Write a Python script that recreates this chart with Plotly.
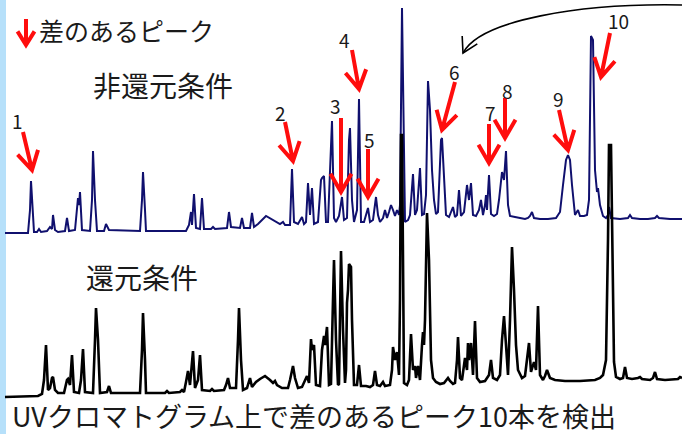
import math
import plotly.graph_objects as go

# ---------------- data ----------------
# Retention time in arbitrary units, absorbance in arbitrary units
nonred_rt = [5, 28, 30, 31, 33, 34, 37, 39, 41, 47, 50, 52, 53, 55, 58, 65, 67, 69, 75, 78, 79, 80, 82, 90, 92, 93, 95, 97,
             104, 106, 109, 140, 142, 143, 145, 146, 186, 189, 191, 192, 194, 196, 200, 202, 204, 211, 213, 215, 227, 229,
             231, 240, 242, 244, 250, 252, 254, 258, 266, 274, 280, 283, 285, 290, 292, 294, 298, 302, 304, 306, 308, 310,
             312, 314, 318, 321, 322, 324, 326, 328, 330, 332, 334, 336, 339, 342, 344, 347, 349, 350, 352, 354, 357, 359,
             361, 364, 366, 368, 370, 373, 376, 378, 380, 383, 385, 387, 389, 391, 393, 395, 397, 399, 400, 401, 402, 404,
             405, 408, 410, 413, 415, 417, 420, 422, 424, 426, 428, 430, 432, 434, 436, 438, 440, 441, 442, 444, 446, 449,
             451, 453, 455, 457, 459, 461, 464, 467, 469, 471, 473, 476, 479, 481, 483, 485, 486, 487, 489, 491, 494, 497,
             499, 502, 504, 506, 508, 510, 515, 520, 525, 528, 530, 532, 534, 540, 548, 556, 560, 563, 566, 568, 570, 572,
             575, 578, 580, 584, 587, 589, 590, 591, 593, 594, 595, 597, 598, 600, 603, 606, 608, 609, 611, 620, 628, 630,
             632, 640, 648, 655, 657, 659, 670, 682]
nonred_abs = [0, 0, 23, 52, 18, 1, 1, 4, 1, 2, 6, 4, 18, 3, 1, 2, 15, 2, 3, 35, 28, 41, 3, 2, 33, 82, 33, 2,
              2, 9, 3, 2, 33, 61, 23, 2, 2, 8, 21, 8, 39, 5, 4, 35, 4, 4, 6, 4, 5, 21,
              6, 5, 15, 5, 5, 20, 6, 9, 17, 12, 9, 11, 8, 8, 64, 11, 9, 16, 9, 11, 50, 18,
              45, 9, 11, 53, 55, 57, 11, 11, 73, 112, 15, 11, 17, 36, 13, 15, 93, 105, 33, 11, 23, 134,
              11, 11, 18, 25, 11, 13, 36, 18, 11, 15, 23, 15, 21, 28, 23, 17, 23, 18, 28, 133, 225, 83,
              11, 13, 18, 59, 18, 23, 65, 18, 19, 38, 152, 123, 63, 33, 19, 21, 63, 93, 95, 53, 18, 16,
              21, 26, 16, 18, 43, 17, 21, 48, 33, 50, 18, 17, 23, 33, 18, 28, 38, 23, 58, 19, 17, 19,
              33, 61, 53, 82, 28, 17, 16, 15, 14, 15, 17, 21, 15, 14, 14, 15, 21, 48, 73, 78, 73, 48,
              18, 23, 17, 17, 18, 33, 113, 197, 193, 113, 63, 41, 45, 28, 17, 15, 18, 26, 15, 14, 15, 18,
              15, 14, 14, 15, 17, 15, 14, 14]

red_rt = [5, 38, 42, 44, 46, 48, 50, 52, 53, 55, 58, 64, 67, 68, 70, 72, 74, 79, 81, 83, 85, 93, 95, 96, 98, 100,
          107, 109, 111, 140, 142, 143, 145, 146, 165, 167, 169, 180, 182, 184, 186, 188, 190, 193, 195, 198, 200, 202,
          210, 212, 214, 224, 226, 228, 230, 236, 238, 239, 241, 243, 247, 250, 252, 256, 260, 265, 270, 273, 275, 277,
          282, 288, 290, 293, 295, 298, 302, 305, 307, 309, 311, 312, 314, 316, 320, 322, 324, 325, 327, 329, 331, 333,
          334, 336, 338, 339, 341, 343, 345, 346, 347, 348, 349, 351, 352, 354, 357, 359, 361, 366, 370, 373, 375, 377,
          380, 383, 385, 390, 392, 393, 395, 397, 399, 400, 401, 402, 403, 404, 407, 409, 411, 413, 415, 416, 418, 420,
          422, 423, 424, 425, 427, 429, 431, 433, 436, 440, 444, 446, 448, 450, 453, 455, 457, 458, 460, 462, 464, 465,
          467, 468, 469, 471, 473, 475, 477, 480, 485, 489, 491, 493, 497, 500, 502, 504, 506, 508, 510, 512, 514, 516,
          518, 522, 525, 527, 529, 531, 533, 534, 536, 538, 540, 543, 545, 547, 550, 555, 565, 580, 595, 600, 603, 606,
          608, 609, 611, 612, 614, 616, 620, 623, 625, 627, 632, 638, 640, 642, 650, 653, 655, 657, 665, 678, 680, 682]
red_abs = [-1, 0, 2, 16, 51, 6, 8, 18, 19, 6, 3, 3, 16, 17, 11, 41, 4, 3, 16, 47, 4, 3, 56, 88, 56, 3,
           4, 10, 3, 3, 46, 83, 36, 3, 3, 5, 3, 4, 6, 4, 14, 25, 11, 45, 8, 16, 41, 6,
           5, 7, 5, 6, 11, 18, 8, 8, 56, 88, 36, 6, 8, 18, 9, 14, 17, 20, 16, 13, 15, 11,
           8, 8, 16, 30, 18, 8, 9, 16, 20, 13, 57, 46, 51, 11, 10, 46, 60, 51, 69, 11, 12, 96,
           136, 56, 11, 12, 145, 66, 13, 26, 93, 106, 132, 129, 76, 11, 11, 31, 10, 10, 9, 11, 25, 11,
           10, 14, 10, 11, 26, 49, 36, 44, 21, 96, 261, 261, 96, 13, 11, 16, 62, 26, 30, 18, 30, 16,
           51, 64, 51, 76, 183, 136, 36, 18, 14, 12, 13, 15, 18, 15, 12, 13, 36, 59, 18, 16, 31, 38,
           26, 53, 36, 53, 21, 75, 18, 14, 15, 21, 36, 18, 16, 21, 56, 80, 51, 21, 76, 149, 106, 51,
           26, 18, 20, 36, 53, 24, 31, 34, 26, 90, 21, 16, 20, 26, 18, 16, 15, 15, 16, 18, 21, 36,
           156, 251, 251, 156, 34, 19, 17, 18, 29, 18, 17, 18, 19, 17, 16, 18, 24, 17, 16, 17, 19, 18]

peak_labels = ["1", "2", "3", "4", "5", "6", "7", "8", "9", "10"]

W, H = 682, 434


def px(x, y):
    return x / W, 1 - y / H


fig = go.Figure()
fig.add_trace(go.Scatter(x=nonred_rt, y=nonred_abs, mode="lines", yaxis="y",
                         line=dict(color="#10106e", width=2), hoverinfo="skip", showlegend=False))
fig.add_trace(go.Scatter(x=red_rt, y=red_abs, mode="lines", yaxis="y2",
                         line=dict(color="#000000", width=2.6), hoverinfo="skip", showlegend=False))

shapes = []
# light-blue strip on the left edge
shapes.append(dict(type="rect", xref="paper", yref="paper", x0=0, x1=6 / W, y0=0, y1=1,
                   fillcolor="#b6e0fa", line=dict(width=0), layer="below"))


def head_pts(tail, tip, head, ang):
    dx, dy = tip[0] - tail[0], tip[1] - tail[1]
    L = math.hypot(dx, dy)
    bx, by = -dx / L, -dy / L
    pts = []
    for s in (1, -1):
        a = math.radians(ang * s)
        rx = bx * math.cos(a) - by * math.sin(a)
        ry = bx * math.sin(a) + by * math.cos(a)
        pts.append((tip[0] + rx * head, tip[1] + ry * head))
    return pts


def p(x, y):
    X, Y = px(x, y)
    return f"{X:.5f},{Y:.5f}"


def arrow_path(tail, tip, head=21, ang=30, shaft=True):
    a, b = head_pts(tail, tip, head, ang)
    s = f"M{p(*tail)} L{p(*tip)} " if shaft else ""
    return s + f"M{p(*a)} L{p(*tip)} L{p(*b)}"


# red arrows marking the differing peaks (tail, tip)
arrow_tails = [(23, 132), (285, 122), (341, 118), (352, 50), (368, 149),
               (455, 82), (489, 124), (505, 98), (559, 110), (610, 33)]
arrow_tips = [(32, 170), (293, 161), (341, 192), (359, 89), (368, 197),
              (442, 130), (489, 163), (505, 138), (568, 150), (601, 77)]
label_pos = [(17, 120), (280, 112), (335, 105), (344, 39), (369, 139),
             (454, 72), (490, 112), (507, 90), (558, 99), (618, 21)]

for t, h in zip(arrow_tails, arrow_tips):
    shapes.append(dict(type="path", xref="paper", yref="paper", path=arrow_path(t, h),
                       line=dict(color="#ff0d0d", width=4)))
# legend arrow
shapes.append(dict(type="path", xref="paper", yref="paper", path=arrow_path((26, 19), (26, 45), head=16, ang=32),
                   line=dict(color="#ff0d0d", width=4)))

# curved black arrow
curve = f"M{p(682, 5)} C{p(580, 3)} {p(480, 20)} {p(463, 53)}"
shapes.append(dict(type="path", xref="paper", yref="paper", path=curve, line=dict(color="#000000", width=1.6)))
shapes.append(dict(type="path", xref="paper", yref="paper",
                   path=arrow_path((480, 20), (463, 53), head=17, ang=30, shaft=False),
                   line=dict(color="#000000", width=1.6)))

annotations = []
FONT = "Noto Sans CJK JP"
for lab, (x, y) in zip(peak_labels, label_pos):
    X, Y = px(x, y)
    annotations.append(dict(text=lab, x=X, y=Y, xref="paper", yref="paper", showarrow=False,
                            xanchor="center", yanchor="middle",
                            font=dict(family=FONT, size=19, color="#1a1a1a")))


def txt(s, x, y, size):
    X, Y = px(x, y)
    return dict(text=s, x=X, y=Y, xref="paper", yref="paper", showarrow=False,
                xanchor="left", yanchor="middle", font=dict(family=FONT, size=size, color="#1a1a1a"))


annotations.append(txt("差のあるピーク", 37, 30, 25))
annotations.append(txt("非還元条件", 91, 85, 28))
annotations.append(txt("還元条件", 84, 277, 28))
annotations.append(txt("UVクロマトグラム上で差のあるピーク10本を検出", 10, 415, 27))

fig.update_layout(
    width=W, height=H,
    margin=dict(l=0, r=0, t=0, b=0),
    paper_bgcolor="white", plot_bgcolor="white",
    xaxis=dict(range=[0, W], visible=False, fixedrange=True),
    yaxis=dict(range=[233 - H, 233], visible=False, fixedrange=True),
    yaxis2=dict(range=[396 - H, 396], visible=False, overlaying="y", fixedrange=True),
    shapes=shapes,
    annotations=annotations,
)

fig.write_html("out.html", config={"displayModeBar": False},
               post_script="document.body.style.margin='0';document.body.style.overflow='hidden';")
